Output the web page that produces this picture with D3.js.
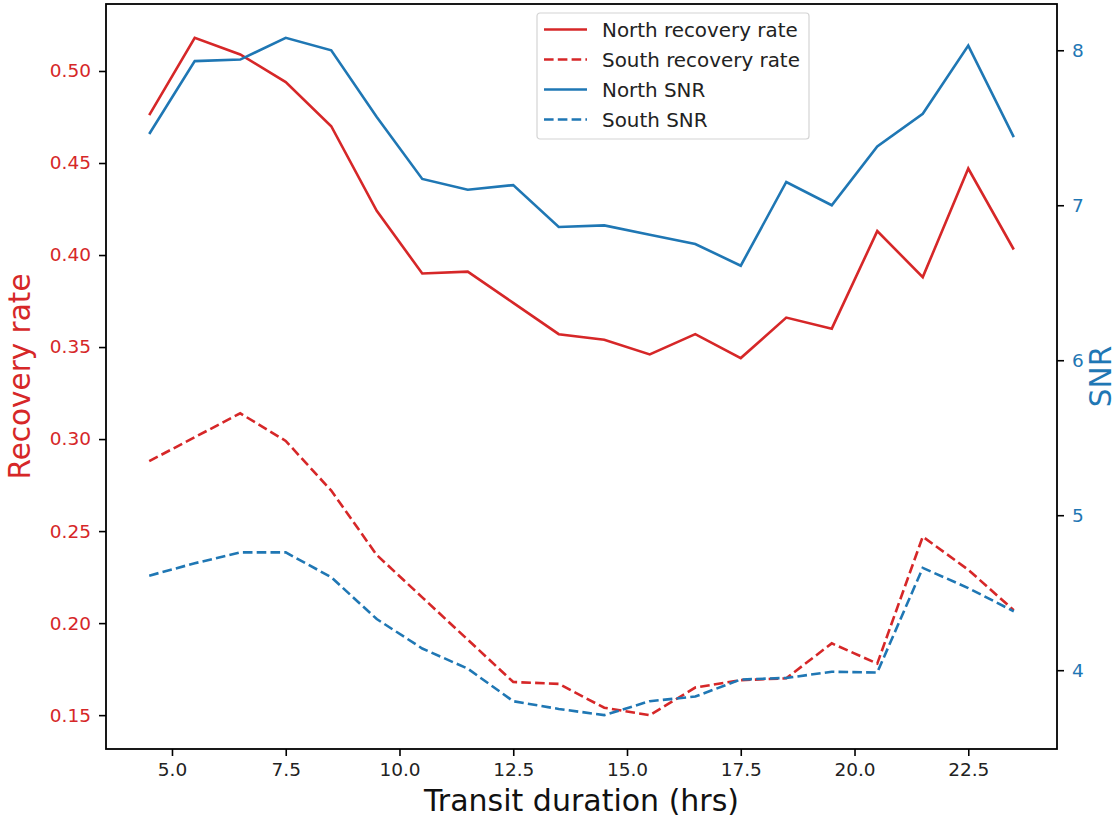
<!DOCTYPE html>
<html>
<head>
<meta charset="utf-8">
<script src="https://cdn.jsdelivr.net/npm/d3@7"></script>
<style>
  body { margin: 0; background: #fff; }
  text { font-family: 'DejaVu Sans', sans-serif; }
</style>
</head>
<body>
<div id="chart"></div>
<script>
// Data
const duration = [4.5, 5.5, 6.5, 7.5, 8.5, 9.5, 10.5, 11.5, 12.5, 13.5, 14.5, 15.5, 16.5, 17.5, 18.5, 19.5, 20.5, 21.5, 22.5, 23.5];
const northRate = [0.476, 0.518, 0.509, 0.494, 0.470, 0.424, 0.390, 0.391, 0.374, 0.357, 0.354, 0.346, 0.357, 0.344, 0.366, 0.360, 0.413, 0.388, 0.447, 0.403];
const southRate = [0.288, 0.301, 0.314, 0.299, 0.272, 0.237, 0.214, 0.191, 0.168, 0.167, 0.154, 0.150, 0.165, 0.169, 0.170, 0.189, 0.178, 0.247, 0.229, 0.207];
const northSNR = [7.46, 7.93, 7.94, 8.08, 8.00, 7.57, 7.17, 7.10, 7.13, 6.86, 6.87, 6.81, 6.75, 6.61, 7.15, 7.00, 7.38, 7.59, 8.03, 7.44];
const southSNR = [4.61, 4.69, 4.76, 4.76, 4.60, 4.33, 4.14, 4.01, 3.80, 3.75, 3.71, 3.80, 3.83, 3.94, 3.95, 3.99, 3.985, 4.66, 4.53, 4.38];

const xTicks = [5, 7.5, 10, 12.5, 15, 17.5, 20, 22.5];
const rateTicks = [0.15, 0.20, 0.25, 0.30, 0.35, 0.40, 0.45, 0.50];
const snrTicks = [4, 5, 6, 7, 8];

const legendItems = [
  { label: 'North recovery rate', axis: 'rate', dashed: false },
  { label: 'South recovery rate', axis: 'rate', dashed: true },
  { label: 'North SNR', axis: 'snr', dashed: false },
  { label: 'South SNR', axis: 'snr', dashed: true }
];

const red = '#d62728', blue = '#1f77b4';
const width = 1120, height = 820;
const margin = { top: 4, right: 63, bottom: 71, left: 106 };
const plotW = width - margin.left - margin.right;
const plotH = height - margin.top - margin.bottom;

// matplotlib-style 5% padding
function padded(values) {
  const [lo, hi] = d3.extent(values);
  const p = (hi - lo) * 0.05;
  return [lo - p, hi + p];
}

const x = d3.scaleLinear().domain(padded(duration)).range([0, plotW]);
const yRate = d3.scaleLinear().domain(padded(northRate.concat(southRate))).range([plotH, 0]);
const ySnr = d3.scaleLinear().domain(padded(northSNR.concat(southSNR))).range([plotH, 0]);

const svg = d3.select('#chart').append('svg')
  .attr('width', width)
  .attr('height', height);

const g = svg.append('g')
  .attr('transform', 'translate(' + margin.left + ',' + margin.top + ')');

const lw = 2.6;
const dash = '9.6,4.2';

function drawLine(vals, scale, color, dashed) {
  const line = d3.line()
    .x((d, i) => x(duration[i]))
    .y(d => scale(d));
  g.append('path')
    .datum(vals)
    .attr('d', line)
    .attr('fill', 'none')
    .attr('stroke', color)
    .attr('stroke-width', lw)
    .attr('stroke-dasharray', dashed ? dash : null);
}

drawLine(northRate, yRate, red, false);
drawLine(southRate, yRate, red, true);
drawLine(northSNR, ySnr, blue, false);
drawLine(southSNR, ySnr, blue, true);

// Axes
const tickFont = '18.5px';
const xAxis = g.append('g')
  .attr('transform', 'translate(0,' + plotH + ')')
  .call(d3.axisBottom(x).tickValues(xTicks).tickFormat(d3.format('.1f')).tickSize(7).tickPadding(7));
const leftAxis = g.append('g')
  .call(d3.axisLeft(yRate).tickValues(rateTicks).tickFormat(d3.format('.2f')).tickSize(7).tickPadding(8));
const rightAxis = g.append('g')
  .attr('transform', 'translate(' + plotW + ',0)')
  .call(d3.axisRight(ySnr).tickValues(snrTicks).tickFormat(d3.format('d')).tickSize(7).tickPadding(8));

[xAxis, leftAxis, rightAxis].forEach(a => {
  a.select('.domain').remove();
  a.selectAll('.tick line').attr('stroke', '#000').attr('stroke-width', 1.6);
  a.selectAll('.tick text').style('font-size', tickFont).style('font-family', 'DejaVu Sans');
});
xAxis.selectAll('.tick text').attr('fill', '#222');
leftAxis.selectAll('.tick text').attr('fill', red);
rightAxis.selectAll('.tick text').attr('fill', blue);

// Frame
g.append('rect')
  .attr('width', plotW)
  .attr('height', plotH)
  .attr('fill', 'none')
  .attr('stroke', '#000')
  .attr('stroke-width', 1.8);

// Axis labels
svg.append('text')
  .attr('x', margin.left + plotW / 2)
  .attr('y', 811)
  .attr('text-anchor', 'middle')
  .style('font-size', '30px')
  .attr('fill', '#111')
  .text('Transit duration (hrs)');

svg.append('text')
  .attr('transform', 'translate(30,' + (margin.top + plotH / 2) + ') rotate(-90)')
  .attr('text-anchor', 'middle')
  .style('font-size', '29.5px')
  .attr('fill', red)
  .text('Recovery rate');

svg.append('text')
  .attr('transform', 'translate(1111,' + (margin.top + plotH / 2) + ') rotate(-90)')
  .attr('text-anchor', 'middle')
  .style('font-size', '29.5px')
  .attr('fill', blue)
  .text('SNR');

// Legend
const legend = svg.append('g').attr('transform', 'translate(537,13)');
legend.append('rect')
  .attr('width', 272)
  .attr('height', 126)
  .attr('rx', 3)
  .attr('fill', 'rgba(255,255,255,0.8)')
  .attr('stroke', '#d4d4d4')
  .attr('stroke-width', 1.2);

legend.selectAll('.item')
  .data(legendItems)
  .enter()
  .append('g')
    .attr('class', 'item')
    .attr('transform', (d, i) => 'translate(0,' + (16.5 + i * 30) + ')')
    .each(function(d) {
      const item = d3.select(this);
      item.append('line')
        .attr('x1', 7).attr('x2', 50)
        .attr('stroke', d.axis === 'rate' ? red : blue)
        .attr('stroke-width', lw)
        .attr('stroke-dasharray', d.dashed ? dash : null);
      item.append('text')
        .attr('x', 65)
        .attr('dy', '0.36em')
        .style('font-size', '19.9px')
        .attr('fill', '#222')
        .text(d.label);
    });
</script>
</body>
</html>
